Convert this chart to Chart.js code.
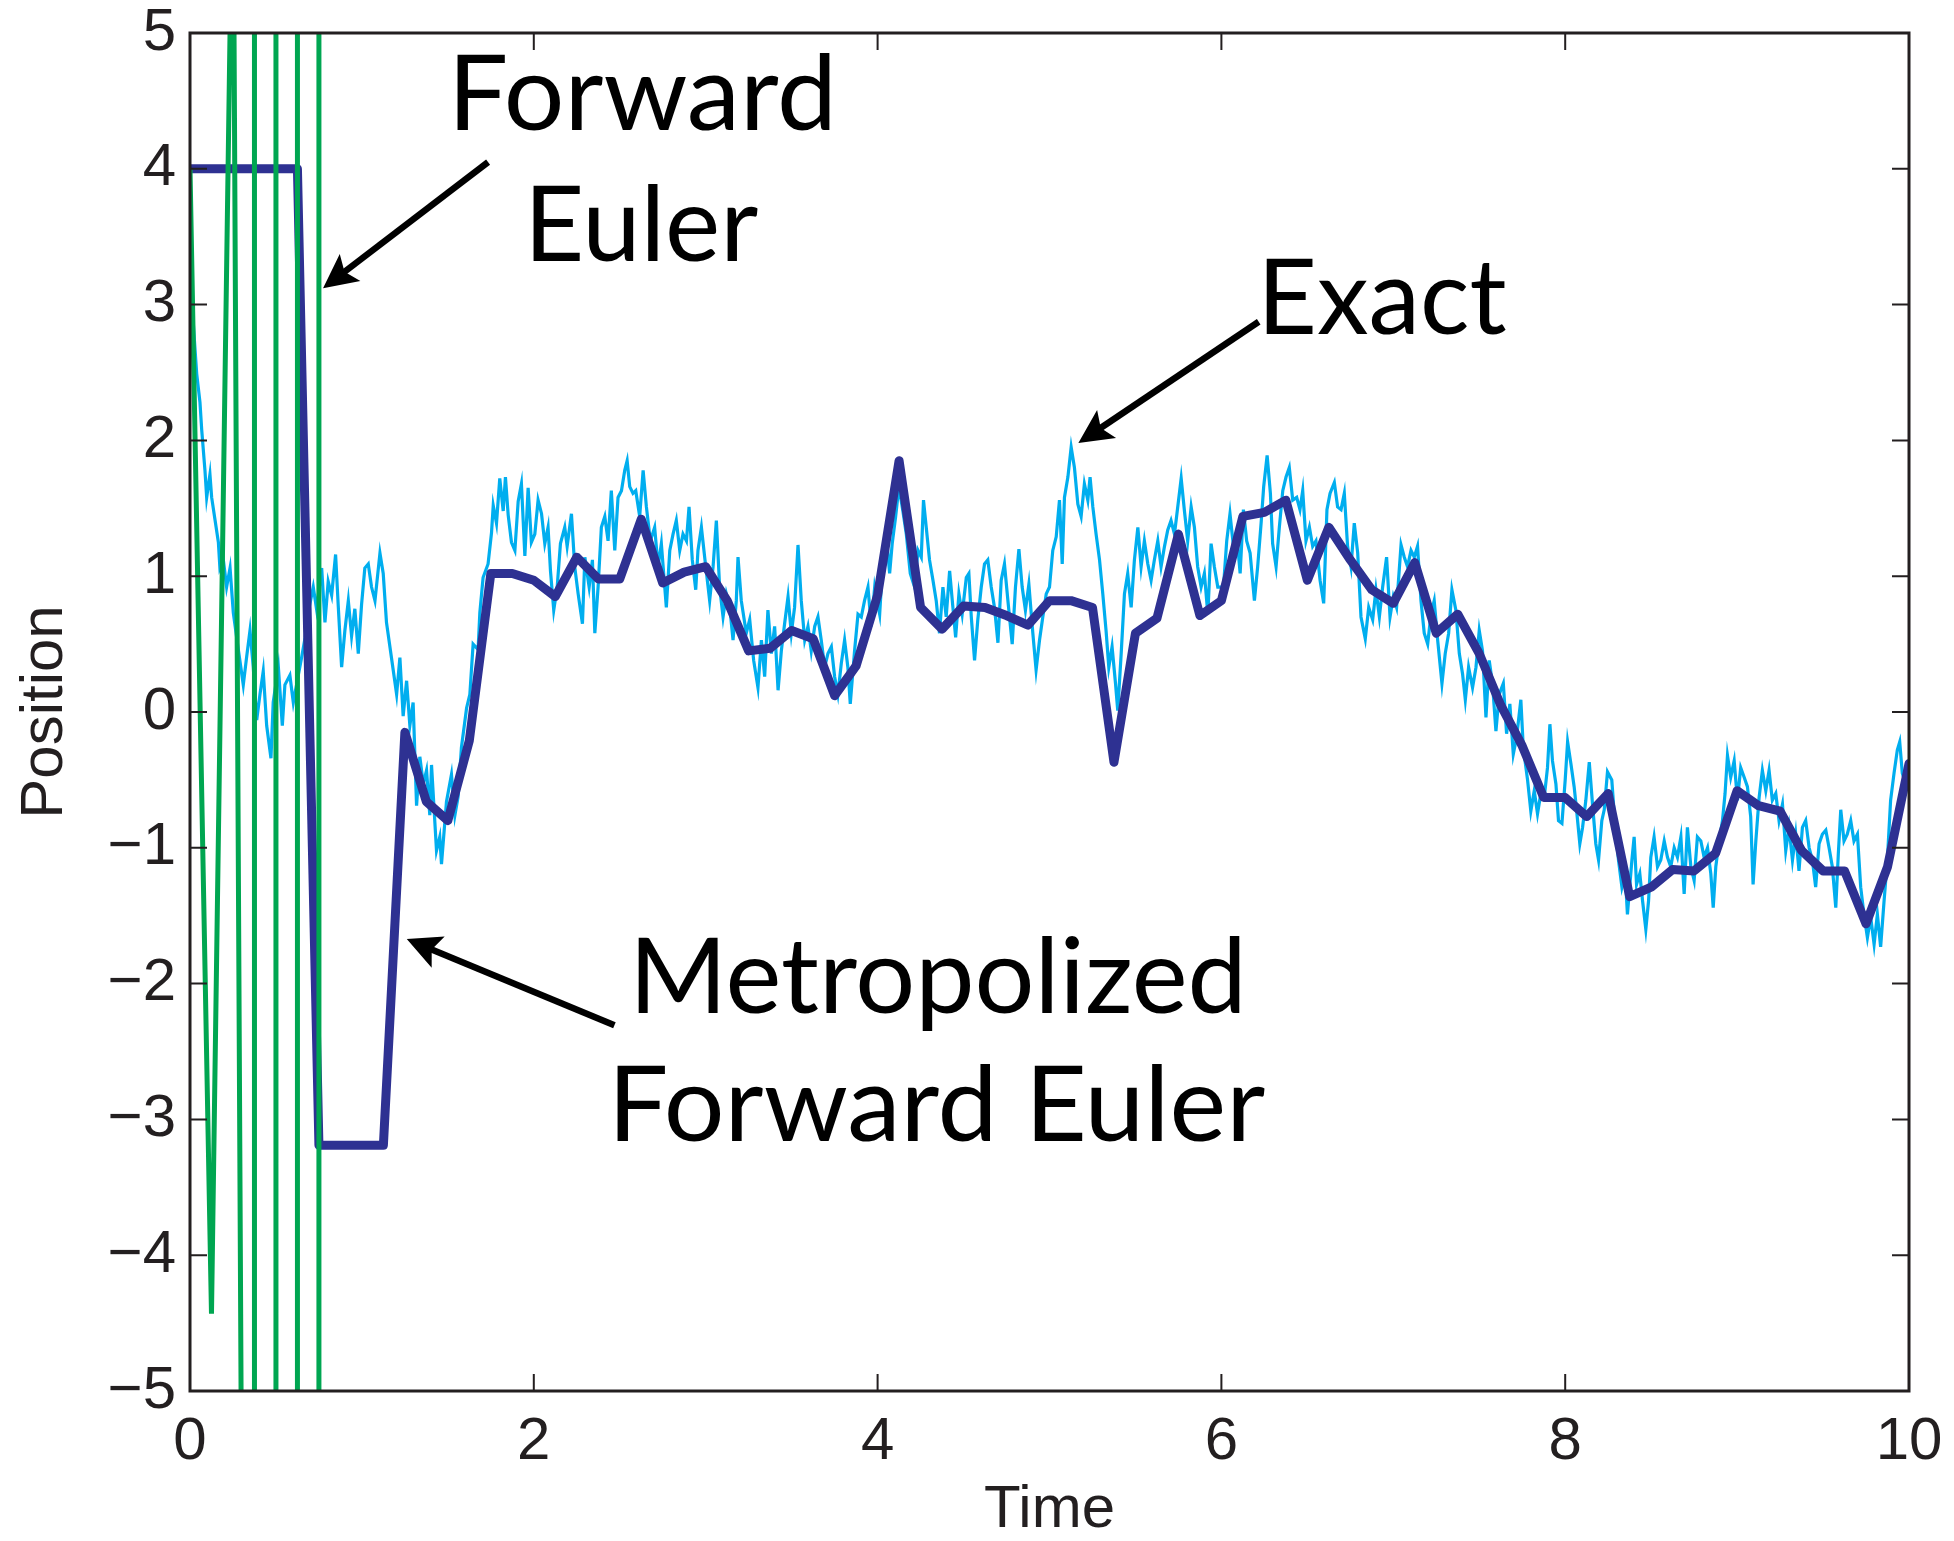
<!DOCTYPE html>
<html>
<head>
<meta charset="utf-8">
<script src="https://cdn.jsdelivr.net/npm/chart.js@4.4.1/dist/chart.umd.min.js"></script>
<style>
html,body{margin:0;padding:0;background:#ffffff;}
#wrap{width:1954px;height:1541px;}
</style>
</head>
<body>
<div id="wrap"><canvas id="c" width="1954" height="1541"></canvas></div>
<script>
// ---------- data ----------
const xTickValues = [0, 2, 4, 6, 8, 10];
const yTickValues = [-5, -4, -3, -2, -1, 0, 1, 2, 3, 4, 5];

// Forward Euler (blows up; values beyond the axis range kept off-scale)
const feTime  = [0, 0.125, 0.25, 0.375, 0.375, 0.5, 0.5, 0.625, 0.625, 0.75, 0.75];
const fePos   = [4, -4.43, 6.5, -24, 200, 200, -200, -200, 200, 200, -200];

// Metropolized Forward Euler
const metroTime = [0,0.125,0.25,0.375,0.5,0.625,0.75,0.875,1,1.125,
  1.25,1.375,1.5,1.625,1.75,1.875,2,2.125,2.25,2.375,
  2.5,2.625,2.75,2.875,3,3.125,3.25,3.375,3.5,3.625,
  3.75,3.875,4,4.125,4.25,4.375,4.5,4.625,4.75,4.875,
  5,5.125,5.25,5.375,5.5,5.625,5.75,5.875,6,6.125,
  6.25,6.375,6.5,6.625,6.75,6.875,7,7.125,7.25,7.375,
  7.5,7.625,7.75,7.875,8,8.125,8.25,8.375,8.5,8.625,
  8.75,8.875,9,9.125,9.25,9.375,9.5,9.625,9.75,9.875,10];
const metroPos = [4,4,4,4,4,4,-3.19,-3.19,-3.19,-3.19,
  -0.15,-0.66,-0.80,-0.21,1.02,1.02,0.97,0.85,1.14,0.98,
  0.98,1.42,0.95,1.03,1.07,0.82,0.45,0.47,0.60,0.54,
  0.12,0.34,0.86,1.85,0.77,0.61,0.78,0.77,0.71,0.64,
  0.82,0.82,0.77,-0.37,0.58,0.69,1.31,0.71,0.82,1.44,
  1.47,1.56,0.97,1.36,1.12,0.90,0.80,1.10,0.58,0.72,
  0.43,0.05,-0.25,-0.63,-0.63,-0.77,-0.60,-1.36,-1.29,-1.16,
  -1.17,-1.04,-0.58,-0.69,-0.73,-1.02,-1.17,-1.17,-1.56,-1.14,-0.38];

// Exact trajectory
const exactTime = [
  0,0.012,0.025,0.039,0.058,0.068,0.087,0.097,0.116,0.126,
  0.145,0.165,0.174,0.194,0.213,0.233,0.252,0.281,0.31,0.329,
  0.349,0.368,0.388,0.407,0.426,0.446,0.471,0.484,0.514,0.537,
  0.552,0.581,0.601,0.63,0.649,0.67,0.69,0.717,0.736,0.766,
  0.785,0.804,0.824,0.847,0.862,0.882,0.901,0.921,0.94,0.959,
  0.979,0.998,1.017,1.037,1.056,1.076,1.105,1.124,1.143,1.172,
  1.202,1.221,1.24,1.26,1.279,1.298,1.318,1.337,1.357,1.376,
  1.395,1.405,1.434,1.453,1.463,1.492,1.521,1.541,1.56,1.579,
  1.609,1.628,1.647,1.676,1.686,1.705,1.734,1.754,1.764,1.783,
  1.802,1.822,1.835,1.851,1.87,1.89,1.909,1.928,1.948,1.967,
  1.986,2.006,2.025,2.045,2.064,2.083,2.097,2.116,2.136,2.155,
  2.18,2.194,2.219,2.238,2.258,2.283,2.297,2.322,2.341,2.355,
  2.374,2.393,2.413,2.432,2.451,2.471,2.49,2.51,2.529,2.543,
  2.558,2.577,2.593,2.616,2.636,2.655,2.678,2.703,2.723,2.742,
  2.771,2.791,2.81,2.829,2.849,2.868,2.888,2.903,2.922,2.942,
  2.955,2.975,2.994,3.023,3.043,3.062,3.081,3.101,3.12,3.14,
  3.159,3.178,3.188,3.207,3.236,3.256,3.279,3.304,3.324,3.343,
  3.362,3.382,3.401,3.421,3.44,3.459,3.479,3.498,3.517,3.537,
  3.556,3.576,3.595,3.614,3.634,3.653,3.672,3.692,3.711,3.731,
  3.75,3.769,3.789,3.808,3.827,3.841,3.866,3.886,3.905,3.924,
  3.944,3.963,3.983,4.012,4.031,4.05,4.07,4.085,4.105,4.124,
  4.147,4.167,4.19,4.215,4.235,4.254,4.267,4.283,4.302,4.322,
  4.341,4.36,4.38,4.399,4.419,4.438,4.454,4.473,4.492,4.516,
  4.531,4.545,4.564,4.583,4.603,4.622,4.641,4.661,4.68,4.7,
  4.719,4.738,4.758,4.783,4.802,4.822,4.841,4.86,4.88,4.903,
  4.922,4.942,4.961,4.981,5.0,5.019,5.039,5.058,5.074,5.087,
  5.107,5.126,5.145,5.165,5.184,5.203,5.223,5.236,5.252,5.271,
  5.291,5.31,5.329,5.345,5.364,5.384,5.397,5.417,5.436,5.455,
  5.475,5.494,5.514,5.533,5.552,5.572,5.591,5.61,5.63,5.649,
  5.669,5.688,5.707,5.727,5.746,5.766,5.785,5.804,5.824,5.843,
  5.862,5.882,5.901,5.921,5.94,5.959,5.979,6.012,6.031,6.05,
  6.07,6.089,6.109,6.128,6.147,6.167,6.192,6.211,6.231,6.246,
  6.266,6.285,6.298,6.318,6.337,6.357,6.376,6.395,6.415,6.438,
  6.457,6.473,6.492,6.512,6.531,6.55,6.574,6.595,6.614,6.632,
  6.657,6.676,6.696,6.715,6.734,6.754,6.773,6.793,6.812,6.837,
  6.857,6.88,6.899,6.919,6.938,6.961,6.981,7.0,7.019,7.045,
  7.064,7.083,7.103,7.122,7.141,7.161,7.18,7.2,7.219,7.238,
  7.258,7.283,7.302,7.322,7.341,7.364,7.384,7.403,7.419,7.438,
  7.461,7.481,7.5,7.519,7.539,7.558,7.577,7.597,7.616,7.64,
  7.659,7.678,7.698,7.717,7.742,7.756,7.781,7.8,7.82,7.839,
  7.858,7.878,7.897,7.911,7.926,7.946,7.961,7.981,8.0,8.014,
  8.033,8.052,8.066,8.085,8.101,8.12,8.14,8.159,8.178,8.194,
  8.213,8.227,8.246,8.271,8.291,8.31,8.33,8.349,8.362,8.388,
  8.401,8.415,8.434,8.45,8.469,8.485,8.498,8.517,8.537,8.556,
  8.576,8.595,8.614,8.634,8.653,8.673,8.692,8.711,8.731,8.75,
  8.769,8.789,8.808,8.828,8.847,8.861,8.876,8.895,8.915,8.93,
  8.944,8.963,8.983,9.002,9.021,9.041,9.06,9.079,9.093,9.109,
  9.128,9.147,9.167,9.186,9.205,9.225,9.244,9.264,9.283,9.302,
  9.322,9.341,9.36,9.38,9.399,9.419,9.438,9.457,9.477,9.496,
  9.516,9.535,9.554,9.574,9.589,9.603,9.622,9.641,9.661,9.68,
  9.7,9.719,9.738,9.758,9.777,9.797,9.816,9.835,9.855,9.874,
  9.893,9.913,9.932,9.946,9.961,9.985,10.0];
const exactPos = [
  4,3.0,2.75,2.49,2.28,2.08,1.78,1.58,1.75,1.58,
  1.42,1.25,1.06,1.12,0.92,1.06,0.73,0.46,0.2,0.4,
  0.6,0.33,-0.06,0.13,0.3,-0.1,-0.34,0.07,0.33,-0.1,
  0.2,0.27,0.07,0.27,0.4,0.55,0.75,0.92,0.76,1.06,
  0.66,0.96,0.86,1.16,0.79,0.33,0.6,0.82,0.56,0.76,
  0.43,0.79,1.06,1.09,0.92,0.82,1.17,1.02,0.66,0.4,
  0.13,0.4,-0.03,0.23,-0.1,0.07,-0.69,-0.33,-0.53,-0.43,
  -0.76,-0.39,-1.02,-0.92,-1.12,-0.66,-0.46,-0.76,-0.62,-0.26,
  0.03,0.13,0.5,0.46,0.73,0.99,1.09,1.32,1.52,1.39,
  1.72,1.48,1.73,1.45,1.25,1.19,1.55,1.68,1.15,1.65,
  1.25,1.31,1.56,1.46,1.24,1.36,1.04,0.75,0.92,1.24,
  1.36,1.22,1.46,1.07,0.87,0.65,1.14,0.92,1.12,0.58,
  0.92,1.36,1.44,1.26,1.63,1.19,1.58,1.63,1.78,1.85,
  1.66,1.61,1.63,1.44,1.78,1.51,1.26,1.36,1.07,1.24,
  0.77,1.19,1.31,1.41,1.19,1.31,1.26,1.51,1.12,0.9,
  1.19,1.36,1.14,0.82,1.07,1.41,0.92,0.70,0.87,0.77,
  0.53,0.82,1.14,0.82,0.58,0.68,0.38,0.18,0.53,0.26,
  0.75,0.43,0.63,0.16,0.45,0.65,0.85,0.58,0.77,1.23,
  0.82,0.53,0.63,0.45,0.63,0.70,0.53,0.33,0.43,0.48,
  0.26,0.13,0.36,0.53,0.33,0.06,0.45,0.72,0.70,0.82,
  0.92,0.63,0.92,0.72,1.12,1.31,1.02,1.24,1.44,1.66,
  1.48,1.31,1.02,0.92,1.19,1.14,1.56,1.36,1.12,0.97,
  0.82,0.58,0.92,0.70,1.04,0.77,0.55,0.87,0.72,0.99,
  1.02,0.70,0.38,0.68,0.92,1.09,1.12,0.92,0.77,0.51,
  0.97,1.09,0.82,0.50,0.92,1.20,0.92,0.75,0.94,0.58,
  0.31,0.53,0.70,0.87,0.92,1.19,1.29,1.56,1.09,1.58,
  1.73,1.95,1.80,1.53,1.44,1.68,1.56,1.73,1.51,1.31,
  1.12,0.87,0.6,0.33,0.48,0.21,0.01,0.43,0.87,1.02,
  0.77,1.12,1.36,1.07,1.26,1.09,0.97,1.12,1.26,1.07,
  1.22,1.34,1.41,1.31,1.51,1.72,1.48,1.26,1.51,1.36,
  1.07,0.92,1.02,0.72,1.24,1.07,0.92,0.92,1.26,1.46,
  1.22,1.31,1.02,1.49,1.26,1.17,0.82,1.07,1.39,1.66,
  1.89,1.61,1.24,1.07,1.36,1.63,1.73,1.80,1.56,1.58,
  1.49,1.63,1.26,1.36,1.22,1.26,0.97,0.80,1.49,1.61,
  1.69,1.51,1.49,1.61,1.22,1.07,1.39,1.17,0.70,0.54,
  0.77,0.68,0.90,0.70,0.92,1.14,0.70,0.85,0.77,1.23,
  1.14,1.07,1.19,1.14,1.22,0.82,0.58,0.50,0.72,0.82,
  0.53,0.21,0.43,0.58,0.90,0.75,0.43,0.28,0.09,0.33,
  0.18,0.33,0.60,0.45,-0.04,0.38,0.21,-0.14,0.13,0.21,
  -0.16,0.06,-0.31,-0.19,0.09,-0.26,-0.50,-0.73,-0.58,-0.75,
  -0.60,-0.63,-0.41,-0.09,-0.36,-0.53,-0.80,-0.82,-0.50,-0.22,
  -0.38,-0.55,-0.72,-0.97,-0.85,-0.65,-0.37,-0.68,-0.97,-1.09,
  -0.80,-0.72,-0.44,-0.50,-0.85,-1.09,-1.29,-1.19,-1.49,-1.09,
  -0.92,-1.27,-1.19,-1.39,-1.60,-1.39,-1.07,-0.92,-1.14,-1.09,
  -0.95,-1.07,-1.14,-1.00,-1.07,-0.92,-1.34,-0.85,-1.14,-1.24,
  -0.92,-0.95,-1.07,-1.00,-1.19,-1.44,-1.14,-0.95,-0.80,-0.60,
  -0.32,-0.48,-0.36,-0.65,-0.41,-0.48,-0.55,-0.77,-1.27,-0.95,
  -0.63,-0.43,-0.58,-0.43,-0.65,-0.60,-0.80,-0.68,-1.02,-0.85,
  -1.09,-0.90,-1.17,-0.85,-0.80,-1.00,-1.09,-1.29,-0.97,-0.90,
  -0.87,-1.00,-1.14,-1.44,-1.04,-0.72,-0.95,-0.90,-0.80,-0.95,
  -0.90,-1.29,-1.49,-1.66,-1.51,-1.71,-1.49,-1.73,-1.39,-1.09,
  -0.65,-0.45,-0.28,-0.22,-0.45,-0.55,-0.4];

// Annotations (text anchored in data coordinates)
const labelTexts = ['Forward', 'Euler', 'Exact', 'Metropolized', 'Forward Euler'];
const labelAtTime = [2.638, 2.650, 6.958, 4.357, 4.369];
const labelAtPos  = [4.285, 3.320, 2.782, -2.214, -3.158];
const labelInkWidth = [373, 225, 240, 602, 648];

const arrowTail = [[1.734, 4.049], [6.217, 2.874], [2.469, -2.306]];
const arrowTip  = [[0.774, 3.121], [5.168, 1.981], [1.261, -1.672]];

// ---------- helpers ----------
const pts = (ts, vs) => ts.map((t, i) => ({x: t, y: vs[i]}));
const fmt = v => (v < 0 ? '\u2212' + Math.abs(v) : String(v));
const INK = '#231F20';
const tickFont = {family: "'Liberation Sans', Arial, Helvetica, sans-serif", size: 60, lineHeight: 1.2};

const framePlugin = {
  id: 'frame',
  afterDatasetsDraw(chart) {
    const {ctx, chartArea: a, scales: {x, y}} = chart;
    ctx.save();
    ctx.strokeStyle = INK;
    ctx.lineWidth = 2;
    ctx.lineCap = 'butt';
    ctx.beginPath();
    x.ticks.forEach(t => {
      const px = x.getPixelForValue(t.value);
      ctx.moveTo(px, a.bottom); ctx.lineTo(px, a.bottom - 17);
      ctx.moveTo(px, a.top); ctx.lineTo(px, a.top + 17);
    });
    y.ticks.forEach(t => {
      const py = y.getPixelForValue(t.value);
      ctx.moveTo(a.left, py); ctx.lineTo(a.left + 17, py);
      ctx.moveTo(a.right, py); ctx.lineTo(a.right - 17, py);
    });
    ctx.stroke();
    ctx.lineWidth = 3;
    ctx.strokeRect(a.left, a.top, a.right - a.left, a.bottom - a.top);
    ctx.restore();
  }
};

const notePlugin = {
  id: 'notes',
  afterDraw(chart) {
    const {ctx, scales: {x, y}} = chart;
    ctx.save();
    ctx.fillStyle = '#000';
    ctx.strokeStyle = '#000';
    // arrows
    arrowTail.forEach((tail, i) => {
      const x0 = x.getPixelForValue(tail[0]), y0 = y.getPixelForValue(tail[1]);
      const x1 = x.getPixelForValue(arrowTip[i][0]), y1 = y.getPixelForValue(arrowTip[i][1]);
      const dx = x1 - x0, dy = y1 - y0, len = Math.hypot(dx, dy);
      const ux = dx / len, uy = dy / len, nx = -uy, ny = ux;
      const L = 34, W = 17, notch = 7;
      ctx.lineWidth = 6.5;
      ctx.lineCap = 'butt';
      ctx.beginPath();
      ctx.moveTo(x0, y0);
      ctx.lineTo(x1 - ux * (L - notch - 2), y1 - uy * (L - notch - 2));
      ctx.stroke();
      ctx.beginPath();
      ctx.moveTo(x1, y1);
      ctx.lineTo(x1 - ux * L + nx * W, y1 - uy * L + ny * W);
      ctx.lineTo(x1 - ux * (L - notch), y1 - uy * (L - notch));
      ctx.lineTo(x1 - ux * L - nx * W, y1 - uy * L - ny * W);
      ctx.closePath();
      ctx.fill();
    });
    // texts
    ctx.font = "105px Lato, 'Open Sans', sans-serif";
    ctx.textAlign = 'left';
    ctx.textBaseline = 'alphabetic';
    labelTexts.forEach((txt, i) => {
      const m = ctx.measureText(txt);
      const inkW = m.actualBoundingBoxLeft + m.actualBoundingBoxRight;
      const sx = labelInkWidth[i] / inkW;
      const cx = x.getPixelForValue(labelAtTime[i]);
      const by = y.getPixelForValue(labelAtPos[i]);
      ctx.save();
      ctx.translate(cx, by);
      ctx.scale(sx, 1);
      ctx.fillText(txt, -(m.actualBoundingBoxRight - m.actualBoundingBoxLeft) / 2, 0);
      ctx.restore();
    });
    ctx.restore();
  }
};

function build() {
  new Chart(document.getElementById('c'), {
    type: 'line',
    data: {
      datasets: [
        {label: 'Forward Euler', data: pts(feTime, fePos), borderColor: '#00A651', borderWidth: 5,
         pointRadius: 0, tension: 0, fill: false, order: 0, clip: 0},
        {label: 'Metropolized Forward Euler', data: pts(metroTime, metroPos), borderColor: '#2E3192', borderWidth: 9,
         pointRadius: 0, tension: 0, fill: false, order: 1, clip: 0, borderJoinStyle: 'round', borderCapStyle: 'round'},
        {label: 'Exact', data: pts(exactTime, exactPos), borderColor: '#00AEEF', borderWidth: 3.2,
         pointRadius: 0, tension: 0, fill: false, order: 2, clip: 0, borderJoinStyle: 'miter'}
      ]
    },
    options: {
      responsive: false,
      animation: false,
      devicePixelRatio: 1,
      events: [],
      layout: {padding: {top: 33, right: 45, left: 0, bottom: 0}},
      plugins: {legend: {display: false}, tooltip: {enabled: false}},
      scales: {
        x: {
          type: 'linear', min: 0, max: 10,
          afterBuildTicks: s => { s.ticks = xTickValues.map(v => ({value: v})); },
          afterFit: s => { s.height = 150; s.paddingLeft = 0; s.paddingRight = 0; },
          grid: {display: false, drawTicks: false},
          border: {display: false},
          ticks: {font: tickFont, color: INK, padding: 15, maxRotation: 0, autoSkip: false, callback: v => fmt(v)},
          title: {display: true, text: 'Time', color: INK,
                  font: {family: tickFont.family, size: 60, lineHeight: 1}, padding: {top: 0, bottom: 1}}
        },
        y: {
          type: 'linear', min: -5, max: 5,
          afterBuildTicks: s => { s.ticks = yTickValues.map(v => ({value: v})); },
          afterFit: s => { s.width = 190; s.paddingTop = 0; s.paddingBottom = 0; },
          grid: {display: false, drawTicks: false},
          border: {display: false},
          ticks: {font: tickFont, color: INK, padding: 14, autoSkip: false, callback: v => fmt(v)},
          title: {display: true, text: 'Position', color: INK,
                  font: {family: tickFont.family, size: 60, lineHeight: 1}, padding: {top: 15, bottom: 0}}
        }
      }
    },
    plugins: [framePlugin, notePlugin]
  });
}

if (document.fonts && document.fonts.load) {
  Promise.all([document.fonts.load("105px Lato"), document.fonts.load("60px 'Liberation Sans'")])
    .then(build, build);
} else {
  build();
}
</script>
</body>
</html>
